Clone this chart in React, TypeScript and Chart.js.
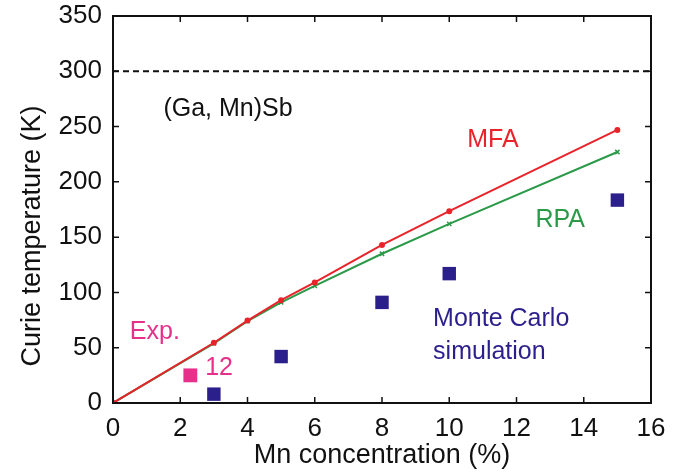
import React, { useEffect, useRef } from "react";
import { Chart, registerables } from "chart.js";

Chart.register(...registerables);

// ---- data ----
const mnConc = [0, 3, 4, 5, 6, 8, 10, 15];
const mfaTc = [0, 54.5, 74.5, 93, 109, 143, 173.5, 247];
const rpaTc = [0, 54, 74, 91, 106, 135, 162, 227];
const mcConc = [0, 3, 5, 8, 10, 15];
const mcTc = [0, 8, 42, 91, 117, 183.5];
const expConc = [2.3];
const expTc = [25];
const roomTemp = 300;
const xTicks = [0, 2, 4, 6, 8, 10, 12, 14, 16];
const yTicks = [0, 50, 100, 150, 200, 250, 300, 350];

const RED = "#e8232a";
const GREEN = "#2a9a48";
const NAVY = "#2b1f8c";
const PINK = "#e6308a";
const FONT = "'Liberation Sans', Arial, Helvetica, sans-serif";

const labels = [
  { text: "(Ga, Mn)Sb", x: 3.42, y: 266, color: "#111", align: "center" },
  { text: "MFA", x: 11.3, y: 238, color: RED, align: "center" },
  { text: "RPA", x: 13.3, y: 165, color: GREEN, align: "center" },
  { text: "Monte Carlo", x: 9.52, y: 76, color: NAVY, align: "left" },
  { text: "simulation", x: 9.52, y: 46, color: NAVY, align: "left" },
  { text: "Exp.", x: 0.5, y: 64, color: PINK, align: "left" },
  { text: "12", x: 2.74, y: 32, color: PINK, align: "left" },
];

const framePlugin = {
  id: "frame",
  afterDatasetsDraw(chart: any) {
    const { ctx, chartArea: a, scales } = chart;
    const xs = scales.x;
    const ys = scales.y;
    ctx.save();
    ctx.strokeStyle = "#111";
    ctx.lineWidth = 2;
    ctx.strokeRect(a.left, a.top, a.right - a.left, a.bottom - a.top);
    ctx.lineWidth = 1.5;
    const L = 6;
    ctx.beginPath();
    xTicks.forEach((v) => {
      const px = xs.getPixelForValue(v);
      ctx.moveTo(px, a.bottom);
      ctx.lineTo(px, a.bottom - L);
      ctx.moveTo(px, a.top);
      ctx.lineTo(px, a.top + L);
    });
    yTicks.forEach((v) => {
      const py = ys.getPixelForValue(v);
      ctx.moveTo(a.left, py);
      ctx.lineTo(a.left + L, py);
      ctx.moveTo(a.right, py);
      ctx.lineTo(a.right - L, py);
    });
    ctx.stroke();

    // annotations
    ctx.font = `25px ${FONT}`;
    ctx.textBaseline = "middle";
    labels.forEach((l) => {
      ctx.fillStyle = l.color;
      ctx.textAlign = l.align as CanvasTextAlign;
      ctx.fillText(l.text, xs.getPixelForValue(l.x), ys.getPixelForValue(l.y));
    });

    // y axis title
    ctx.fillStyle = "#111";
    ctx.font = `27px ${FONT}`;
    ctx.textAlign = "center";
    ctx.translate(33, 236);
    ctx.rotate(-Math.PI / 2);
    ctx.fillText("Curie temperature (K)", 0, 0);
    ctx.restore();
  },
};

export default function App() {
  const ref = useRef<HTMLCanvasElement>(null);
  useEffect(() => {
    document.body.style.margin = "0";
    const chart = new Chart(ref.current as HTMLCanvasElement, {
      type: "scatter",
      data: {
        datasets: [
          {
            label: "300 K",
            data: [
              { x: 0, y: roomTemp },
              { x: 16, y: roomTemp },
            ],
            showLine: true,
            borderColor: "#111",
            borderWidth: 2,
            borderDash: [6, 4],
            pointRadius: 0,
          },
          {
            label: "MFA",
            data: mnConc.map((x, i) => ({ x, y: mfaTc[i] })),
            showLine: true,
            borderColor: RED,
            backgroundColor: RED,
            borderWidth: 2,
            pointRadius: 2,
            pointStyle: "circle",
          },
          {
            label: "RPA",
            data: mnConc.map((x, i) => ({ x, y: rpaTc[i] })),
            showLine: true,
            borderColor: GREEN,
            backgroundColor: GREEN,
            borderWidth: 2,
            pointRadius: 3,
            pointBorderWidth: 1.5,
            pointStyle: "crossRot",
          },
          {
            label: "Monte Carlo",
            data: mcConc.map((x, i) => ({ x, y: mcTc[i] })),
            backgroundColor: NAVY,
            borderColor: NAVY,
            borderWidth: 0,
            pointStyle: "rect",
            pointRadius: [3, 9.5, 9.5, 9.5, 9.5, 9.5],
          },
          {
            label: "Exp.",
            data: expConc.map((x, i) => ({ x, y: expTc[i] })),
            backgroundColor: PINK,
            borderColor: PINK,
            borderWidth: 0,
            pointStyle: "rect",
            pointRadius: 9.8,
          },
        ],
      },
      options: {
        animation: false,
        responsive: false,
        layout: { padding: { top: 16, right: 24, left: 0, bottom: 0 } },
        plugins: { legend: { display: false }, tooltip: { enabled: false } },
        scales: {
          x: {
            type: "linear",
            min: 0,
            max: 16,
            afterBuildTicks: (s: any) => {
              s.ticks = xTicks.map((v) => ({ value: v }));
            },
            afterFit: (s: any) => {
              s.height = 69;
              s.paddingLeft = 0;
              s.paddingRight = 0;
            },
            grid: { display: false, drawTicks: false },
            border: { display: false },
            ticks: {
              color: "#111",
              font: { family: FONT, size: 26 },
              padding: 10,
              maxRotation: 0,
              autoSkip: false,
            },
            title: {
              display: true,
              text: "Mn concentration (%)",
              color: "#111",
              font: { family: FONT, size: 27 },
              padding: { top: 0, bottom: 0 },
            },
          },
          y: {
            type: "linear",
            min: 0,
            max: 350,
            afterBuildTicks: (s: any) => {
              s.ticks = yTicks.map((v) => ({ value: v }));
            },
            afterFit: (s: any) => {
              s.width = 113;
              s.paddingTop = 0;
              s.paddingBottom = 0;
            },
            grid: { display: false, drawTicks: false },
            border: { display: false },
            ticks: {
              color: "#111",
              font: { family: FONT, size: 26 },
              padding: 11,
              autoSkip: false,
            },
          },
        },
      },
      plugins: [framePlugin],
    } as any);
    return () => chart.destroy();
  }, []);
  return (
    <div style={{ width: 675, height: 472, background: "#fff" }}>
      <canvas ref={ref} width={675} height={472} />
    </div>
  );
}
